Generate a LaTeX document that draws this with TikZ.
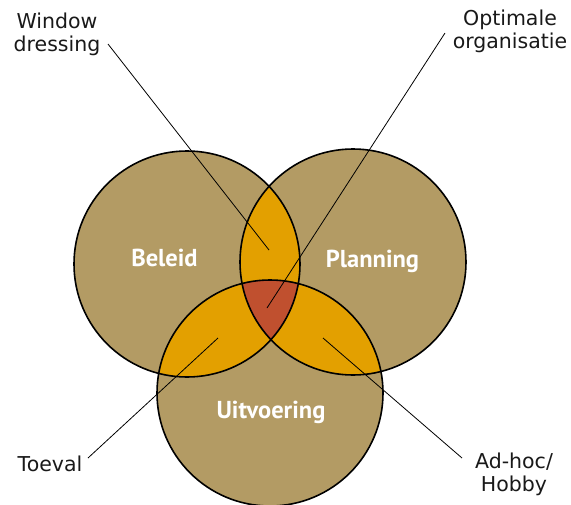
\documentclass[tikz,border=0pt]{standalone}
\usepackage{fontspec}
\setmainfont{PT Sans}
\newfontfamily\captionfont{DejaVu Sans}
\begin{document}
\begin{tikzpicture}[x=1pt,y=-1pt,
  outline/.style={draw=black,line width=1.6pt},
  leader/.style={draw=black,line width=0.8pt},
  caption/.style={font=\captionfont\fontsize{20.5}{23}\selectfont,inner sep=0pt,align=center,text=black!90},
  setname/.style={font=\fontsize{24.5}{28}\selectfont\bfseries,text=white,inner sep=0pt}]
\definecolor{tanfill}{RGB}{179,155,100}
\definecolor{pairfill}{RGB}{227,160,0}
\definecolor{corefill}{RGB}{192,80,47}
\useasboundingbox (0,0) rectangle (571,504);

% circle centres and radius
\coordinate (cB) at (187,264);
\coordinate (cP) at (353,262);
\coordinate (cU) at (270,393);
\def\rad{113}

% base fills
\fill[tanfill] (cB) circle (\rad);
\fill[tanfill] (cP) circle (\rad);
\fill[tanfill] (cU) circle (\rad);

% pairwise overlaps
\begin{scope}
  \clip (cB) circle (\rad);
  \fill[pairfill] (cP) circle (\rad);
  \fill[pairfill] (cU) circle (\rad);
\end{scope}
\begin{scope}
  \clip (cP) circle (\rad);
  \fill[pairfill] (cU) circle (\rad);
\end{scope}

% triple overlap
\begin{scope}
  \clip (cB) circle (\rad);
  \clip (cP) circle (\rad);
  \fill[corefill] (cU) circle (\rad);
\end{scope}

% outlines
\draw[outline] (cB) circle (\rad);
\draw[outline] (cP) circle (\rad);
\draw[outline] (cU) circle (\rad);

% set names
\node[setname,anchor=base] (beleid) at (164.5,266) {Beleid};
\node[setname,anchor=base] (planning) at (372.5,267) {Planning};
\node[setname,anchor=base] (uitvoering) at (271,418) {Uitvoering};

% outer captions
\node[caption,anchor=north] (window) at (57,13) {Window\\dressing};
\node[caption,anchor=north] (optimal) at (510,10) {Optimale\\organisatie};
\node[caption,anchor=base] (toeval) at (50,471) {Toeval};
\node[caption,anchor=north] (adhoc) at (514,453) {Ad-hoc/\\Hobby};

% leader lines
\coordinate (wdA) at (108,44);  \coordinate (wdB) at (269,250);
\coordinate (ooA) at (445,33);  \coordinate (ooB) at (267,308);
\coordinate (tvA) at (88,458);  \coordinate (tvB) at (218,338);
\coordinate (ahA) at (462,458); \coordinate (ahB) at (323,338);
\draw[leader] (wdA) -- (wdB);
\draw[leader] (ooA) -- (ooB);
\draw[leader] (tvA) -- (tvB);
\draw[leader] (ahA) -- (ahB);
\end{tikzpicture}
\end{document}
